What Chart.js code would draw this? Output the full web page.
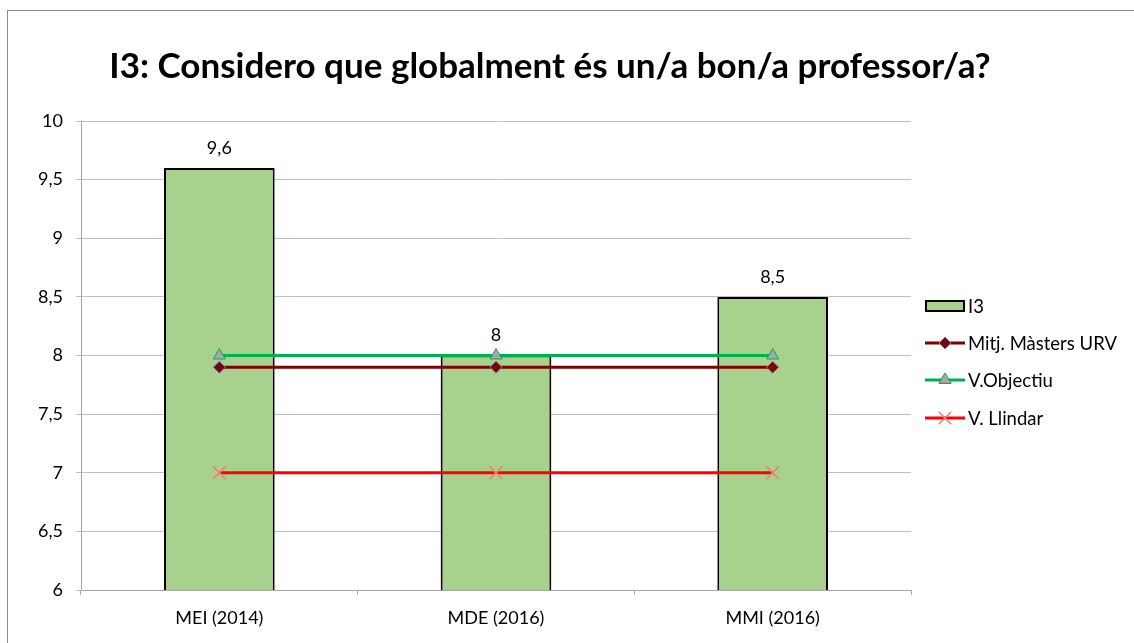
<!DOCTYPE html>
<html lang="ca">
  <head>
    <meta charset="UTF-8" />
    <title>I3</title>
    <style>
      body { margin: 0; background: #fff; }
      .frame { position: absolute; left: 7px; top: 10px; width: 1200px; height: 700px; border: 1px solid #8c8c8c; }
      .container { position: absolute; left: 0; top: 0; width: 1134px; height: 643px; }
    </style>
  </head>
  <body>
    <div class="frame"></div>
    <div class="container">
      <canvas id="myChart"></canvas>
    </div>
    <script src="https://cdn.jsdelivr.net/npm/chart.js@4.4.1/dist/chart.umd.min.js"></script>
    <script>
      const titleText = "I3: Considero que globalment és un/a bon/a professor/a?";
      const categories = ["MEI (2014)", "MDE (2016)", "MMI (2016)"];
      const i3Values = [9.6, 8, 8.5];
      const mitjValues = [7.9, 7.9, 7.9];
      const objectiuValues = [8, 8, 8];
      const llindarValues = [7, 7, 7];
      const yTicks = [6, 6.5, 7, 7.5, 8, 8.5, 9, 9.5, 10];

      const FONT = "Lato";
      const comma = (v) => String(v).replace(".", ",");

      // title, value labels and legend drawn on top of the chart
      const extras = {
        id: "extras",
        afterDatasetsDraw(chart) {
          const ctx = chart.ctx;
          ctx.save();
          // labels above bars
          const meta = chart.getDatasetMeta(0);
          ctx.fillStyle = "#000";
          ctx.font = "18px " + FONT;
          ctx.textAlign = "center";
          ctx.textBaseline = "middle";
          meta.data.forEach((bar, i) => {
            ctx.fillText(comma(i3Values[i]), bar.x, bar.y - 20);
          });
          ctx.restore();
        },
        afterDraw(chart) {
          const ctx = chart.ctx;
          ctx.save();
          ctx.fillStyle = "#000";
          ctx.font = "bold 35px " + FONT;
          ctx.textAlign = "center";
          ctx.textBaseline = "middle";
          ctx.fillText(titleText, 550, 67);

          // legend
          const x0 = 925, x1 = 965;
          const ys = [306, 343, 380, 418];
          ctx.font = "18.5px " + FONT;
          ctx.textAlign = "left";
          chart.data.datasets.forEach((ds, i) => {
            const y = ys[i];
            if (ds.type === "bar") {
              ctx.fillStyle = ds.backgroundColor;
              ctx.fillRect(x0 + 1, y - 5, x1 - x0 - 2, 10);
              ctx.strokeStyle = ds.borderColor;
              ctx.lineWidth = 2;
              ctx.strokeRect(x0 + 1, y - 5, x1 - x0 - 2, 10);
            } else {
              ctx.strokeStyle = ds.borderColor;
              ctx.lineWidth = ds.borderWidth;
              ctx.beginPath();
              ctx.moveTo(x0, y);
              ctx.lineTo(x1, y);
              ctx.stroke();
              ctx.fillStyle = ds.pointBackgroundColor;
              ctx.strokeStyle = ds.pointBorderColor;
              ctx.lineWidth = ds.pointBorderWidth;
              drawMarker(ctx, ds.pointStyle, ds.pointRadius, (x0 + x1) / 2, y);
            }
            ctx.fillStyle = "#000";
            ctx.fillText(ds.label, x1 + 3, y + 1);
          });
          ctx.restore();
        }
      };

      function drawMarker(ctx, style, r, x, y) {
        ctx.beginPath();
        if (style === "rectRot") {
          ctx.moveTo(x, y - r); ctx.lineTo(x + r, y); ctx.lineTo(x, y + r); ctx.lineTo(x - r, y);
          ctx.closePath(); ctx.fill(); ctx.stroke();
        } else if (style === "triangle") {
          ctx.moveTo(x, y - r); ctx.lineTo(x + r * 0.87, y + r * 0.5); ctx.lineTo(x - r * 0.87, y + r * 0.5);
          ctx.closePath(); ctx.fill(); ctx.stroke();
        } else if (style === "crossRot") {
          const d = r * 0.7;
          ctx.moveTo(x - d, y - d); ctx.lineTo(x + d, y + d);
          ctx.moveTo(x + d, y - d); ctx.lineTo(x - d, y + d);
          ctx.stroke();
        }
      }

      const ctx = document.getElementById("myChart").getContext("2d");
      const myChart = new Chart(ctx, {
        type: "bar",
        data: {
          labels: categories,
          datasets: [
            {
              type: "bar",
              label: "I3",
              data: i3Values,
              backgroundColor: "#a9d18e",
              borderColor: "#000000",
              borderWidth: 2,
              borderSkipped: false,
              barPercentage: 0.8,
              categoryPercentage: 0.5,
              order: 2
            },
            {
              type: "line",
              label: "Mitj. Màsters URV",
              data: mitjValues,
              borderColor: "#7f0000",
              borderWidth: 3,
              pointStyle: "rectRot",
              pointRadius: 6,
              pointBackgroundColor: "#7f0000",
              pointBorderColor: "#6b86b8",
              pointBorderWidth: 1,
              order: 1
            },
            {
              type: "line",
              label: "V.Objectiu",
              data: objectiuValues,
              borderColor: "#00b050",
              borderWidth: 3,
              pointStyle: "triangle",
              pointRadius: 7,
              pointBackgroundColor: "#a6a6a6",
              pointBorderColor: "#00b050",
              pointBorderWidth: 1,
              order: 0
            },
            {
              type: "line",
              label: "V. Llindar",
              data: llindarValues,
              borderColor: "#ff0000",
              borderWidth: 3,
              pointStyle: "crossRot",
              pointRadius: 9,
              pointBackgroundColor: "#f0806a",
              pointBorderColor: "#f0806a",
              pointBorderWidth: 1.5,
              order: 0
            }
          ]
        },
        options: {
          responsive: true,
          maintainAspectRatio: false,
          animation: false,
          layout: { padding: { top: 121, right: 223, left: 0, bottom: 0 } },
          plugins: {
            legend: { display: false },
            title: { display: false },
            tooltip: { enabled: false }
          },
          scales: {
            x: {
              offset: true,
              grid: { offset: true, drawOnChartArea: false, drawTicks: true, tickLength: 5, color: "#a6a6a6" },
              border: { color: "#a6a6a6", width: 1 },
              ticks: { color: "#000", font: { family: FONT, size: 18 }, padding: 12 },
              afterFit(scale) { scale.height = 53; }
            },
            y: {
              min: 6,
              max: 10,
              afterBuildTicks(scale) { scale.ticks = yTicks.map((v) => ({ value: v })); },
              grid: { color: "#c0c0c0", drawTicks: true, tickLength: 5 },
              border: { color: "#a6a6a6", width: 1 },
              ticks: { color: "#000", font: { family: FONT, size: 18 }, padding: 13, callback: (v) => comma(v) },
              afterFit(scale) { scale.width = 81; }
            }
          }
        },
        plugins: [extras]
      });
    </script>
  </body>
</html>
